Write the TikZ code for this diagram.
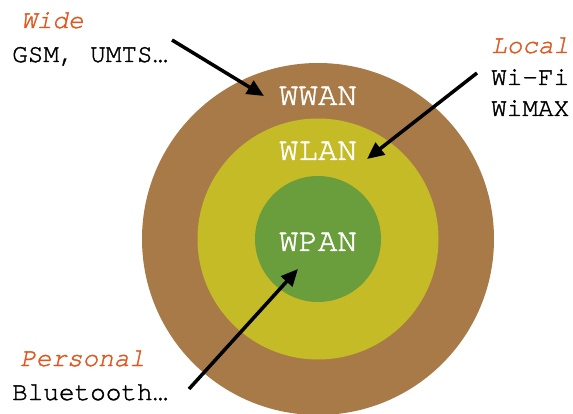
\documentclass[tikz,border=0pt]{standalone}
\usepackage{fontspec}
\setmonofont[FakeBold=1.4]{TeX Gyre Cursor}
\usetikzlibrary{arrows.meta}
\definecolor{ringwide}{RGB}{168,122,72}
\definecolor{ringlocal}{RGB}{197,187,38}
\definecolor{ringpersonal}{RGB}{106,157,60}
\definecolor{labelorange}{RGB}{224,86,30}
\tikzset{
  ring/.style={circle, draw=none, inner sep=0pt, fill=#1},
  netname/.style={anchor=base, inner sep=0pt, text=white,
    font=\ttfamily\fontsize{32.5}{36}\selectfont},
  rangename/.style={anchor=base west, inner sep=0pt, text=labelorange,
    font=\ttfamily\itshape\fontsize{26}{30}\selectfont},
  techname/.style={anchor=base west, inner sep=0pt, text=black,
    font=\ttfamily\fontsize{26}{30}\selectfont},
  pointer/.style={line width=3.5pt, -{Triangle[length=17pt,width=15pt]}}
}
\begin{document}
\begin{tikzpicture}[x=1pt,y=-1pt]
\useasboundingbox (0,0) rectangle (573,414);
\clip (0,0) rectangle (573,414);

% nested coverage rings
\node[ring=ringwide, minimum size=352pt] (wwan) at (318,239) {};
\node[ring=ringlocal, minimum size=241pt] (wlan) at (318,239) {};
\node[ring=ringpersonal, minimum size=126pt] (wpan) at (318,239) {};

% network names
\node[netname] (wwanlbl) at (318,105) {WWAN};
\node[netname] (wlanlbl) at (318,160) {WLAN};
\node[netname] (wpanlbl) at (318,251) {WPAN};

% range and technology captions
\node[rangename] (wide) at (21,28) {Wide};
\node[techname] (gsm) at (12,62) {GSM, UMTS…};
\node[rangename] (local) at (491,53) {Local};
\node[techname] (wifi) at (491,85) {Wi-Fi};
\node[techname] (wimax) at (491,116) {WiMAX};
\node[rangename] (personal) at (20,366) {Personal};
\node[techname] (bt) at (12,400) {Bluetooth…};

% pointer ends
\coordinate (wideTail) at (172,40);
\coordinate (wideTip) at (264,96);
\coordinate (localTail) at (477,73);
\coordinate (localTip) at (367,159);
\coordinate (personalTail) at (189,389);
\coordinate (personalTip) at (298,269);

\draw[pointer] (wideTail) -- (wideTip);
\draw[pointer] (localTail) -- (localTip);
\draw[pointer] (personalTail) -- (personalTip);
\end{tikzpicture}
\end{document}
